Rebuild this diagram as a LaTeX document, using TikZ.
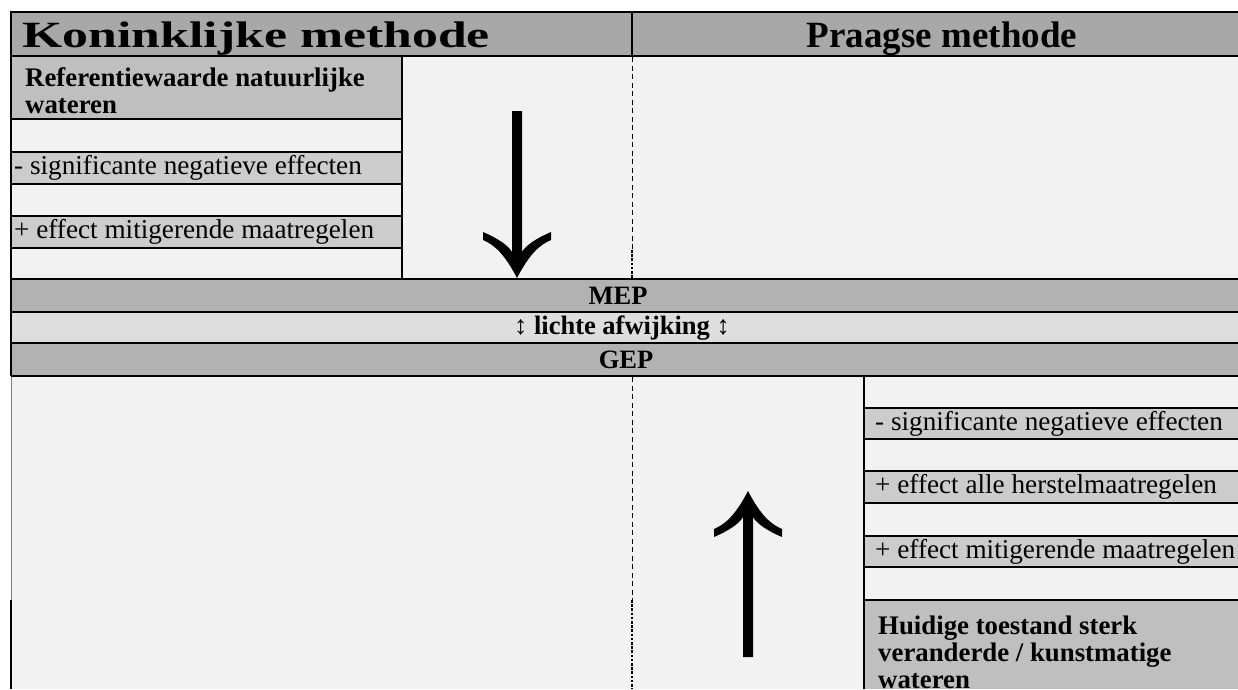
\documentclass[tikz,border=0pt]{standalone}
\usepackage{fontspec}
\setmainfont{Liberation Serif}
\definecolor{headgray}{gray}{0.66}
\definecolor{bandgray}{gray}{0.70}
\definecolor{devgray}{gray}{0.87}
\definecolor{labelgray}{gray}{0.75}
\definecolor{stepgray}{gray}{0.80}
\definecolor{blankgray}{gray}{0.95}
\begin{document}
\begin{tikzpicture}[x=1pt,y=-1pt,
  frame/.style={black,line width=2.2pt},
  rule/.style={black,line width=1.6pt},
  thinrule/.style={black,line width=1.1pt},
  guide/.style={black,line width=1pt,dash pattern=on 5pt off 3.5pt},
  guidebold/.style={black,line width=2.6pt,dash pattern=on 2.6pt off 1.6pt},
  headtext/.style={font=\bfseries\fontsize{37}{40}\selectfont,inner sep=0pt},
  bandtext/.style={font=\bfseries\fontsize{26.5}{27}\selectfont,inner sep=0pt},
  steptext/.style={font=\fontsize{27.2}{27}\selectfont,inner sep=0pt,anchor=west},
  labeltext/.style={font=\bfseries\fontsize{26.8}{27}\selectfont,inner sep=0pt,
    anchor=base west,align=left},
  bigarrow/.style={fill=black}]
\useasboundingbox (0,0) rectangle (1238,689);
\fill[white] (0,0) rectangle (1238,689);

% ---- fills ----
\fill[headgray] (11,12) rectangle (1238,56);
\fill[blankgray] (11,56) rectangle (1238,279);
\fill[labelgray] (11,56) rectangle (402,119);
\fill[stepgray] (11,152) rectangle (402,184);
\fill[stepgray] (11,216) rectangle (402,248);
\fill[bandgray] (11,279) rectangle (1238,312);
\fill[devgray] (11,312) rectangle (1238,343);
\fill[bandgray] (11,343) rectangle (1238,376);
\fill[blankgray] (11,376) rectangle (1238,689);
\fill[stepgray] (864,408) rectangle (1238,439);
\fill[stepgray] (864,471) rectangle (1238,503);
\fill[stepgray] (864,536) rectangle (1238,567);
\fill[labelgray] (864,600) rectangle (1238,689);

% ---- rules ----
\draw[frame] (11,12) -- (1238,12);
\draw[frame] (11,11) -- (11,376);
\draw[gray,line width=1pt] (11,376) -- (11,600);
\draw[frame] (11,600) -- (11,689);
\draw[rule] (632,12) -- (632,56);
\draw[frame] (11,56) -- (1238,56);
\foreach \yy in {119,152,184,216,248}
  \draw[rule] (11,\yy) -- (402,\yy);
\draw[thinrule] (402,56) -- (402,279);
\foreach \yy in {279,312,343,376}
  \draw[frame] (11,\yy) -- (1238,\yy);
\foreach \yy in {408,439,471,503,536,567,600}
  \draw[rule] (864,\yy) -- (1238,\yy);
\draw[rule] (864,376) -- (864,689);

% ---- dashed centre line ----
\draw[guide] (632,57) -- (632,250);
\draw[guidebold] (632,250) -- (632,278);
\draw[guide] (632,377) -- (632,600);
\draw[guidebold] (632,600) -- (632,689);

% ---- texts ----
\node[headtext,anchor=base west] (kon) at (22,47) {\scalebox{1.4}[1]{Koninklijke methode}};
\node[headtext,anchor=base] (praag) at (942,47) {Praagse methode};

\node[labeltext] (ref) at (25,113) {Referentiewaarde natuurlijke\\wateren};
\node[steptext] (lsig) at (14,168) {- significante negatieve effecten};
\node[steptext] (lmit) at (14,232) {+ effect mitigerende maatregelen};

\node[bandtext] (mep) at (618,296) {MEP};
\node[bandtext] (dev) at (622,328) {↕ lichte afwijking ↕};
\node[bandtext] (gep) at (626,360) {GEP};

\node[steptext] (rsig) at (875,424) {- significante negatieve effecten};
\node[steptext] (ralle) at (875,487) {+ effect alle herstelmaatregelen};
\node[steptext] (rmit) at (875,552) {+ effect mitigerende maatregelen};
\node[labeltext] (huid) at (878,688) {Huidige toestand sterk\\veranderde / kunstmatige\\wateren};

% ---- direction arrows ----
\coordinate (downtip) at (517,278);
\coordinate (uptip) at (748,491);
\fill[bigarrow,shift={(downtip)}] (0,0)
  .. controls (-12,-23) and (-22,-33) .. (-34,-38) -- (-34,-46)
  .. controls (-20,-40) and (-9,-33) .. (-5,-26) -- (-5,-167) -- (5,-167) -- (5,-26)
  .. controls (9,-33) and (20,-40) .. (34,-46) -- (34,-38)
  .. controls (22,-33) and (12,-23) .. (0,0) -- cycle;
\fill[bigarrow,shift={(uptip)}] (0,0)
  .. controls (-12,23) and (-22,33) .. (-34,38) -- (-34,46)
  .. controls (-20,40) and (-9,33) .. (-5,26) -- (-5,166) -- (5,166) -- (5,26)
  .. controls (9,33) and (20,40) .. (34,46) -- (34,38)
  .. controls (22,33) and (12,23) .. (0,0) -- cycle;
\end{tikzpicture}
\end{document}
